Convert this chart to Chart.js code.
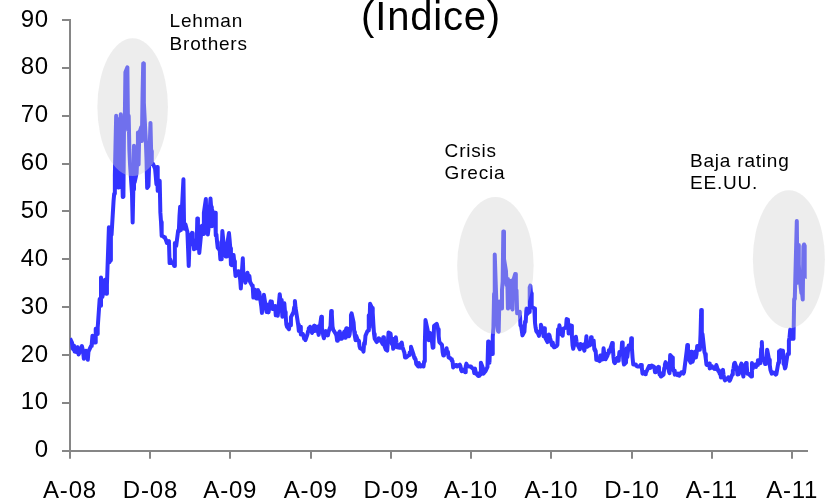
<!DOCTYPE html>
<html>
<head>
<meta charset="utf-8">
<script src="https://cdn.jsdelivr.net/npm/chart.js@4.4.1/dist/chart.umd.min.js"></script>
<style>
  html, body { margin: 0; padding: 0; background: #fff; }
  canvas { display: block; }
</style>
</head>
<body>
<canvas id="vix-chart" width="828" height="503"></canvas>
<script>
// VIX diario (cierre), fechas 'MM-DD' por año
const fechas2008 = ['08-01','08-04','08-05','08-06','08-07','08-08','08-11','08-12','08-13','08-14','08-15','08-18','08-19','08-20','08-21','08-22','08-25','08-26','08-27','08-28','08-29',
  '09-02','09-03','09-04','09-05','09-08','09-09','09-10','09-11','09-12','09-15','09-16','09-17','09-18','09-19','09-22','09-23','09-24','09-25','09-26','09-29','09-30',
  '10-01','10-02','10-03','10-06','10-07','10-08','10-09','10-10','10-13','10-14','10-15','10-16','10-17','10-20','10-21','10-22','10-23','10-24','10-27','10-28','10-29','10-30','10-31',
  '11-03','11-04','11-05','11-06','11-07','11-10','11-11','11-12','11-13','11-14','11-17','11-18','11-19','11-20','11-21','11-24','11-25','11-26','11-28',
  '12-01','12-02','12-03','12-04','12-05','12-08','12-09','12-10','12-11','12-12','12-15','12-16','12-17','12-18','12-19','12-22','12-23','12-24','12-26','12-29','12-30','12-31'];
const vix2008 = [23.5,22.6,21.4,21.2,22.0,20.7,20.6,21.6,21.0,20.1,20.4,21.3,21.9,21.3,20.5,19.2,20.9,20.4,19.8,19.0,20.7,
  21.9,22.3,24.0,22.6,22.6,25.5,24.9,24.4,25.7,31.7,30.3,36.2,33.1,32.1,33.9,35.7,33.0,32.8,34.7,46.7,39.4,
  39.8,45.3,45.1,52.1,53.7,57.5,63.9,70.0,55.0,55.1,69.3,67.6,70.3,53.0,53.1,69.7,67.8,79.1,80.1,67.0,70.0,62.9,59.9,
  53.7,47.7,54.6,63.7,56.1,58.0,61.2,66.5,59.8,66.3,67.6,64.7,74.3,80.9,72.7,64.7,60.9,54.9,55.3,
  68.5,62.6,59.9,60.1,59.9,58.9,57.4,55.7,59.3,54.3,56.4,49.8,47.8,44.9,44.9,44.6,44.4,44.2,43.4,43.8,39.2,40.0];

const fechas2009 = ['01-02','01-05','01-06','01-07','01-08','01-09','01-12','01-13','01-14','01-15','01-16','01-20','01-21','01-22','01-23','01-26','01-27','01-28','01-29','01-30',
  '02-02','02-03','02-04','02-05','02-06','02-09','02-10','02-11','02-12','02-13','02-17','02-18','02-19','02-20','02-23','02-24','02-25','02-26','02-27',
  '03-02','03-03','03-04','03-05','03-06','03-09','03-10','03-11','03-12','03-13','03-16','03-17','03-18','03-19','03-20','03-23','03-24','03-25','03-26','03-27','03-30','03-31',
  '04-01','04-02','04-03','04-06','04-07','04-08','04-09','04-13','04-14','04-15','04-16','04-17','04-20','04-21','04-22','04-23','04-24','04-27','04-28','04-29','04-30',
  '05-01','05-04','05-05','05-06','05-07','05-08','05-11','05-12','05-13','05-14','05-15','05-18','05-19','05-20','05-21','05-22','05-26','05-27','05-28','05-29',
  '06-01','06-02','06-03','06-04','06-05','06-08','06-09','06-10','06-11','06-12','06-15','06-16','06-17','06-18','06-19','06-22','06-23','06-24','06-25','06-26','06-29','06-30',
  '07-01','07-02','07-06','07-07','07-08','07-09','07-10','07-13','07-14','07-15','07-16','07-17','07-20','07-21','07-22','07-23','07-24','07-27','07-28','07-29','07-30','07-31',
  '08-03','08-04','08-05','08-06','08-07','08-10','08-11','08-12','08-13','08-14','08-17','08-18','08-19','08-20','08-21','08-24','08-25','08-26','08-27','08-28','08-31',
  '09-01','09-02','09-03','09-04','09-08','09-09','09-10','09-11','09-14','09-15','09-16','09-17','09-18','09-21','09-22','09-23','09-24','09-25','09-28','09-29','09-30',
  '10-01','10-02','10-05','10-06','10-07','10-08','10-09','10-12','10-13','10-14','10-15','10-16','10-19','10-20','10-21','10-22','10-23','10-26','10-27','10-28','10-29','10-30',
  '11-02','11-03','11-04','11-05','11-06','11-09','11-10','11-11','11-12','11-13','11-16','11-17','11-18','11-19','11-20','11-23','11-24','11-25','11-27','11-30',
  '12-01','12-02','12-03','12-04','12-07','12-08','12-09','12-10','12-11','12-14','12-15','12-16','12-17','12-18','12-21','12-22','12-23','12-24','12-28','12-29','12-30','12-31'];
const vix2009 = [39.2,39.1,38.6,43.4,42.8,42.8,46.0,45.8,49.0,51.0,46.1,56.7,46.4,47.3,47.3,45.7,42.3,38.6,42.6,44.8,
  45.5,43.1,43.9,42.1,43.4,42.3,48.5,46.6,45.7,41.3,47.0,46.0,45.3,49.7,52.6,45.5,48.1,45.2,46.4,
  52.7,50.9,46.9,50.2,49.3,49.7,45.0,45.2,43.6,42.4,41.9,40.0,40.0,42.0,45.9,41.8,42.9,40.6,40.6,42.8,45.5,44.1,
  42.3,38.9,38.8,40.9,39.6,38.0,36.5,37.5,37.4,36.5,35.8,33.9,40.2,36.4,36.4,36.2,35.1,37.2,36.6,35.7,36.5,
  35.3,34.5,34.4,32.0,33.7,32.1,31.8,31.8,33.6,32.0,33.1,30.2,28.8,30.4,31.4,32.6,29.0,30.5,29.8,28.9,
  31.2,30.6,31.2,29.6,29.6,30.2,28.3,29.0,28.5,28.2,32.7,31.5,31.5,30.0,28.0,30.8,29.0,28.2,26.4,25.9,25.4,26.4,
  26.2,27.9,29.0,30.0,31.3,29.8,29.0,26.3,25.0,25.9,25.9,24.3,24.4,24.0,23.4,23.9,23.1,24.3,25.0,25.6,25.4,25.9,
  24.6,24.6,25.6,26.1,25.0,25.5,25.9,24.9,24.2,25.0,28.0,25.6,25.0,24.0,23.5,25.0,24.4,24.3,24.1,24.8,26.0,
  29.2,28.5,26.0,25.3,24.4,24.0,23.0,24.2,24.9,23.4,23.9,23.4,23.9,24.9,23.6,25.0,25.6,25.6,23.9,24.3,25.6,
  28.3,28.7,26.8,24.8,23.9,23.1,24.0,22.9,23.0,21.8,21.4,21.4,21.1,20.7,22.5,22.3,24.0,25.0,25.1,28.3,25.6,30.7,
  29.8,28.8,26.4,24.4,23.4,22.7,23.2,23.0,23.5,23.4,22.9,22.6,22.3,23.7,22.2,21.1,21.0,20.9,24.7,24.5,
  23.3,22.3,23.4,21.3,22.0,23.7,22.5,21.6,21.6,21.5,22.3,21.5,22.6,21.7,20.5,19.5,19.7,19.5,20.0,20.5,20.5,21.7];

const fechas2010 = ['01-04','01-05','01-06','01-07','01-08','01-11','01-12','01-13','01-14','01-15','01-19','01-20','01-21','01-22','01-25','01-26','01-27','01-28','01-29',
  '02-01','02-02','02-03','02-04','02-05','02-08','02-09','02-10','02-11','02-12','02-16','02-17','02-18','02-19','02-22','02-23','02-24','02-25','02-26',
  '03-01','03-02','03-03','03-04','03-05','03-08','03-09','03-10','03-11','03-12','03-15','03-16','03-17','03-18','03-19','03-22','03-23','03-24','03-25','03-26','03-29','03-30','03-31',
  '04-01','04-05','04-06','04-07','04-08','04-09','04-12','04-13','04-14','04-15','04-16','04-19','04-20','04-21','04-22','04-23','04-26','04-27','04-28','04-29','04-30',
  '05-03','05-04','05-05','05-06','05-07','05-10','05-11','05-12','05-13','05-14','05-17','05-18','05-19','05-20','05-21','05-24','05-25','05-26','05-27','05-28',
  '06-01','06-02','06-03','06-04','06-07','06-08','06-09','06-10','06-11','06-14','06-15','06-16','06-17','06-18','06-21','06-22','06-23','06-24','06-25','06-28','06-29','06-30',
  '07-01','07-02','07-06','07-07','07-08','07-09','07-12','07-13','07-14','07-15','07-16','07-19','07-20','07-21','07-22','07-23','07-26','07-27','07-28','07-29','07-30',
  '08-02','08-03','08-04','08-05','08-06','08-09','08-10','08-11','08-12','08-13','08-16','08-17','08-18','08-19','08-20','08-23','08-24','08-25','08-26','08-27','08-30','08-31',
  '09-01','09-02','09-03','09-07','09-08','09-09','09-10','09-13','09-14','09-15','09-16','09-17','09-20','09-21','09-22','09-23','09-24','09-27','09-28','09-29','09-30',
  '10-01','10-04','10-05','10-06','10-07','10-08','10-11','10-12','10-13','10-14','10-15','10-18','10-19','10-20','10-21','10-22','10-25','10-26','10-27','10-28','10-29',
  '11-01','11-02','11-03','11-04','11-05','11-08','11-09','11-10','11-11','11-12','11-15','11-16','11-17','11-18','11-19','11-22','11-23','11-24','11-26','11-29','11-30',
  '12-01','12-02','12-03','12-06','12-07','12-08','12-09','12-10','12-13','12-14','12-15','12-16','12-17','12-20','12-21','12-22','12-23','12-27','12-28','12-29','12-30','12-31'];
const vix2010 = [20.0,19.4,19.2,19.1,18.1,17.6,18.3,17.9,17.6,17.9,17.6,18.7,22.3,27.3,25.4,24.6,23.1,23.7,24.6,
  22.6,21.5,21.6,26.1,26.1,26.5,26.0,25.4,23.9,22.7,22.1,20.6,19.9,20.0,20.6,21.4,20.3,20.7,19.5,
  19.3,19.1,18.8,18.7,17.4,17.8,17.9,17.9,17.6,17.6,18.0,17.7,16.9,16.6,17.0,16.9,16.4,17.6,18.2,17.8,17.6,17.6,17.6,
  17.5,17.0,16.2,17.2,16.5,16.1,15.6,16.2,15.7,16.0,18.4,17.3,16.1,16.3,16.3,16.6,17.5,22.8,21.1,18.4,22.1,
  20.2,23.8,25.7,32.8,41.0,28.8,26.2,25.0,24.9,31.2,29.7,33.6,35.3,45.8,40.1,37.6,34.6,35.9,29.7,32.1,
  35.5,29.8,29.5,35.5,36.9,33.7,33.5,28.7,28.8,29.0,26.2,26.0,25.1,24.1,24.9,27.0,26.9,29.7,28.5,29.0,34.1,34.5,
  32.9,30.1,29.7,26.8,25.7,25.0,24.4,24.0,24.9,25.1,26.3,25.1,23.9,25.6,24.6,23.5,22.7,23.2,24.3,24.1,23.5,
  22.0,22.6,21.8,21.6,21.7,21.9,22.1,25.4,24.6,26.2,24.3,24.7,24.0,25.5,25.5,25.7,27.5,26.7,27.4,24.5,26.2,26.1,
  23.9,22.0,21.3,23.8,22.8,22.1,22.0,21.2,22.3,22.1,22.2,22.0,20.9,22.4,22.3,23.9,21.7,22.1,22.0,22.1,23.7,
  22.5,23.0,21.2,20.9,20.9,19.0,18.9,19.1,18.7,19.9,19.0,19.1,21.4,20.3,19.6,19.1,19.9,20.4,21.0,20.7,21.2,
  22.5,21.6,19.6,18.5,18.3,19.0,19.4,18.8,19.1,20.6,20.2,22.6,21.3,18.8,18.0,18.4,21.4,19.6,22.0,21.5,23.5,
  21.4,19.4,18.0,18.0,17.9,17.7,17.6,17.6,17.6,17.9,17.9,17.4,16.1,16.4,16.0,16.2,16.5,17.7,17.5,17.3,17.5,17.8];

const fechas2011 = ['01-03','01-04','01-05','01-06','01-07','01-10','01-11','01-12','01-13','01-14','01-18','01-19','01-20','01-21','01-24','01-25','01-26','01-27','01-28','01-31',
  '02-01','02-02','02-03','02-04','02-07','02-08','02-09','02-10','02-11','02-14','02-15','02-16','02-17','02-18','02-22','02-23','02-24','02-25','02-28',
  '03-01','03-02','03-03','03-04','03-07','03-08','03-09','03-10','03-11','03-14','03-15','03-16','03-17','03-18','03-21','03-22','03-23','03-24','03-25','03-28','03-29','03-30','03-31',
  '04-01','04-04','04-05','04-06','04-07','04-08','04-11','04-12','04-13','04-14','04-15','04-18','04-19','04-20','04-21','04-25','04-26','04-27','04-28','04-29',
  '05-02','05-03','05-04','05-05','05-06','05-09','05-10','05-11','05-12','05-13','05-16','05-17','05-18','05-19','05-20','05-23','05-24','05-25','05-26','05-27','05-31',
  '06-01','06-02','06-03','06-06','06-07','06-08','06-09','06-10','06-13','06-14','06-15','06-16','06-17','06-20','06-21','06-22','06-23','06-24','06-27','06-28','06-29','06-30',
  '07-01','07-05','07-06','07-07','07-08','07-11','07-12','07-13','07-14','07-15','07-18','07-19','07-20','07-21','07-22','07-25','07-26','07-27','07-28','07-29',
  '08-01','08-02','08-03','08-04','08-05','08-08','08-09','08-10','08-11','08-12','08-15','08-16','08-17','08-18','08-19','08-22','08-23'];
const vix2011 = [17.6,17.4,16.4,17.1,17.1,17.5,16.9,15.9,16.2,15.5,15.9,17.3,18.0,18.5,17.6,17.6,16.6,16.2,20.0,19.5,
  17.6,16.7,16.7,15.9,16.0,15.8,16.1,16.0,15.7,16.4,16.4,16.2,16.1,16.4,20.8,22.1,21.3,19.2,18.4,
  20.7,19.7,18.6,19.1,20.7,19.5,20.2,21.9,21.1,21.1,24.3,29.4,24.4,24.4,20.6,20.2,19.2,18.0,17.9,18.2,17.2,17.7,17.7,
  17.4,17.3,17.1,17.5,17.1,17.9,16.6,16.8,16.1,16.3,15.3,16.9,15.8,15.1,14.7,15.1,15.3,15.1,14.6,14.8,
  15.9,16.7,17.1,18.2,18.4,17.2,15.9,16.9,16.0,17.1,18.2,17.6,16.2,15.5,17.4,18.3,17.8,16.1,16.1,16.0,15.5,
  18.3,17.1,18.0,17.9,17.5,18.1,17.9,18.9,18.9,18.3,21.3,22.7,18.9,19.0,18.1,19.3,19.3,21.1,19.0,17.9,16.9,16.5,
  16.1,16.3,16.3,15.9,16.0,18.4,20.8,19.9,21.0,19.5,20.9,18.1,18.0,17.2,17.5,20.2,20.2,23.0,23.7,25.3,
  23.4,24.8,23.4,31.7,32.0,48.0,35.1,43.0,39.0,36.4,32.9,32.9,31.6,42.7,43.1,42.4,36.3];

// eje X: marcas cada 4 meses
const fechasEje = ['2008-08-01','2008-12-01','2009-04-01','2009-08-01','2009-12-01','2010-04-01','2010-08-01','2010-12-01','2011-04-01','2011-08-01'];
const etiquetasX = ['A-08','D-08','A-09','A-09','D-09','A-10','A-10','D-10','A-11','A-11'];
const fechaFinal = '2011-08-23';

// anotaciones (elipses grises y textos)
const elipses = [
  { fecha: '2008-11-04', valor: 71.8, rDias: 53.5, rValor: 14.4 },
  { fecha: '2010-05-08', valor: 38.7, rDias: 58, rValor: 14.3 },
  { fecha: '2011-07-27', valor: 40.0, rDias: 54.6, rValor: 14.4 }
];
const notas = [
  { fecha: '2008-12-30', valor: 88.5, lineas: ['Lehman', 'Brothers'] },
  { fecha: '2010-02-20', valor: 61.4, lineas: ['Crisis', 'Grecia'] },
  { fecha: '2011-02-27', valor: 59.3, lineas: ['Baja rating', 'EE.UU.'] }
];

const INICIO = Date.UTC(2008, 7, 1);
const diaDe = (iso) => {
  const [a, m, d] = iso.split('-').map(Number);
  return Math.round((Date.UTC(a, m - 1, d) - INICIO) / 86400000);
};
const serie = (anio, fechas, valores) =>
  fechas.map((f, i) => ({ x: diaDe(anio + '-' + f), y: valores[i] }));

const puntos = [].concat(
  serie(2008, fechas2008, vix2008),
  serie(2009, fechas2009, vix2009),
  serie(2010, fechas2010, vix2010),
  serie(2011, fechas2011, vix2011)
);
const diasEje = fechasEje.map(diaDe);

const FUENTE = '"Liberation Sans", Arial, sans-serif';
const GRIS = '#868686';
const ESPACIADO = '0.8px';

const anotaciones = {
  id: 'anotaciones',
  beforeLayout(chart) { chart.ctx.letterSpacing = ESPACIADO; },
  beforeDraw(chart) { chart.ctx.letterSpacing = ESPACIADO; },
  afterDatasetsDraw(chart) {
    const { ctx, scales: { x, y } } = chart;
    ctx.save();
    ctx.fillStyle = 'rgba(208,208,208,0.39)';
    elipses.forEach(e => {
      const d = diaDe(e.fecha);
      const cx = x.getPixelForValue(d), cy = y.getPixelForValue(e.valor);
      const rx = x.getPixelForValue(d + e.rDias) - cx;
      const ry = cy - y.getPixelForValue(e.valor + e.rValor);
      ctx.beginPath();
      ctx.ellipse(cx, cy, rx, ry, 0, 0, Math.PI * 2);
      ctx.fill();
    });

    ctx.fillStyle = '#000';
    ctx.textAlign = 'left';
    ctx.textBaseline = 'alphabetic';
    ctx.font = '19px ' + FUENTE;
    notas.forEach(n => {
      const px = x.getPixelForValue(diaDe(n.fecha));
      const py = y.getPixelForValue(n.valor);
      n.lineas.forEach((t, i) => ctx.fillText(t, px, py + i * 22.5));
    });

    // titulo, cortado arriba como en el original
    ctx.textAlign = 'center';
    ctx.font = '40px ' + FUENTE;
    ctx.fillText('(Indice)', 431, 29.5);
    ctx.restore();
  }
};

new Chart(document.getElementById('vix-chart'), {
  type: 'line',
  data: {
    datasets: [{
      label: 'VIX',
      data: puntos,
      borderColor: '#3333ff',
      borderWidth: 4,
      borderJoinStyle: 'round',
      pointRadius: 0,
      tension: 0,
      fill: false
    }]
  },
  options: {
    responsive: false,
    animation: false,
    devicePixelRatio: 1,
    layout: { padding: { top: 20, right: 21.3, left: 0, bottom: 0 } },
    plugins: { legend: { display: false }, tooltip: { enabled: false } },
    scales: {
      x: {
        type: 'linear',
        min: 0,
        max: diaDe(fechaFinal),
        afterBuildTicks: (scale) => { scale.ticks = diasEje.map(v => ({ value: v })); },
        afterFit: (scale) => { scale.height = 52.3; scale.paddingLeft = 0; scale.paddingRight = 0; },
        grid: { drawOnChartArea: false, tickLength: 8, color: GRIS, lineWidth: 2 },
        border: { color: GRIS, width: 2 },
        ticks: {
          autoSkip: false,
          maxRotation: 0,
          padding: 18,
          color: '#000',
          font: { family: FUENTE, size: 24 },
          callback: (v, i) => etiquetasX[i]
        }
      },
      y: {
        min: 0,
        max: 90,
        afterFit: (scale) => { scale.width = 70; scale.paddingTop = 0; scale.paddingBottom = 0; },
        grid: { drawOnChartArea: false, tickLength: 8, color: GRIS, lineWidth: 2 },
        border: { color: GRIS, width: 2 },
        ticks: {
          stepSize: 10,
          padding: 13,
          color: '#000',
          font: { family: FUENTE, size: 24 }
        }
      }
    }
  },
  plugins: [anotaciones]
});
</script>
</body>
</html>
